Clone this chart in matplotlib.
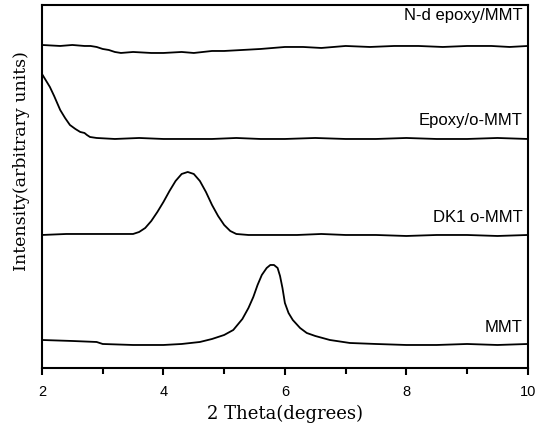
import numpy as np
import matplotlib
matplotlib.use('Agg')
import matplotlib.pyplot as plt
from matplotlib.ticker import MultipleLocator

# (2 theta in degrees, intensity in arbitrary units)
nd_x = [2.0, 2.3, 2.5, 2.7, 2.8, 2.9, 3.0, 3.1, 3.2, 3.3, 3.5, 3.8, 4.0, 4.3, 4.5, 4.8, 5.0, 5.3,
        5.6, 5.8, 6.0, 6.3, 6.6, 7.0, 7.4, 7.8, 8.2, 8.6, 9.0, 9.4, 9.7, 10.0]
nd_y = [323, 322, 323, 322, 322, 321, 319, 318, 316, 315, 316, 315, 315, 316, 315, 317, 317, 318,
        319, 320, 321, 321, 320, 322, 321, 322, 322, 321, 322, 322, 321, 322]

ep_x = [2.0, 2.07, 2.13, 2.2, 2.3, 2.38, 2.46, 2.55, 2.63, 2.7, 2.74, 2.79, 2.9, 3.2, 3.6, 4.0,
        4.4, 4.8, 5.2, 5.6, 6.0, 6.5, 7.0, 7.5, 8.0, 8.5, 9.0, 9.5, 10.0]
ep_y = [294, 287, 281, 272, 258, 250, 243, 239, 236, 235, 233, 231, 230, 229, 230, 229,
        229, 229, 230, 229, 229, 230, 229, 229, 230, 229, 229, 230, 229]

dk_x = [2.0, 2.4, 2.8, 3.2, 3.5, 3.6, 3.7, 3.8, 3.9, 4.0, 4.1, 4.2, 4.3, 4.4, 4.5, 4.6, 4.7,
        4.8, 4.9, 5.0, 5.1, 5.2, 5.4, 5.8, 6.2, 6.6, 7.0, 7.5, 8.0, 8.5, 9.0, 9.5, 10.0]
dk_y = [133, 134, 134, 134, 134, 136, 140, 147, 156, 166, 177, 187, 194, 196, 194, 187, 176,
        163, 152, 143, 137, 134, 133, 133, 133, 134, 133, 133, 132, 133, 133, 132, 133]

mmt_x = [2.0, 2.5, 2.9, 3.0, 3.5, 4.0, 4.3, 4.6, 4.8, 5.0, 5.15, 5.3, 5.4, 5.48, 5.55, 5.62, 5.7,
         5.76, 5.82, 5.88, 5.92, 5.96, 6.0, 6.06, 6.13, 6.25, 6.36, 6.5, 6.74, 7.07, 7.5, 8.0, 8.5,
         9.0, 9.5, 10.0]
mmt_y = [28, 27, 26, 24, 23, 23, 24, 26, 29, 33, 38, 49, 60, 71, 83, 93, 100, 103, 103, 100, 92,
         80, 65, 55, 48, 40, 35, 32, 28, 25, 24, 23, 23, 24, 23, 24]

labels = ['N-d epoxy/MMT', 'Epoxy/o-MMT', 'DK1 o-MMT', 'MMT']
label_y = [352, 247, 150, 40]

fig = plt.figure(figsize=(5.41, 4.36), dpi=100)
ax = fig.add_axes([0.0776, 0.156, 0.898, 0.8326])

for xs, ys in [(nd_x, nd_y), (ep_x, ep_y), (dk_x, dk_y), (mmt_x, mmt_y)]:
    ax.plot(xs, ys, color='black', lw=1.3)

for lab, ly in zip(labels, label_y):
    ax.text(9.91, ly, lab, ha='right', va='center', fontsize=12,
            family='Liberation Sans')

ax.set_xlim(2, 10)
ax.set_ylim(0, 363)
ax.set_yticks([])
ax.xaxis.set_major_locator(MultipleLocator(2))
ax.xaxis.set_minor_locator(MultipleLocator(1))
ax.tick_params(axis='x', which='major', direction='out', length=5, width=1.5,
               labelsize=10.5, pad=7)
ax.tick_params(axis='x', which='minor', direction='out', length=4, width=1.5)
for lab in ax.get_xticklabels():
    lab.set_family('Liberation Sans')
for s in ax.spines.values():
    s.set_linewidth(1.5)

ax.set_xlabel('2 Theta(degrees)', family='DejaVu Serif', fontsize=13)
ax.set_ylabel('Intensity(arbitrary units)', family='DejaVu Serif', fontsize=12.5)
ax.xaxis.set_label_coords(0.5, -0.10)
ax.yaxis.set_label_coords(-0.025, 0.57)

fig.savefig('out.png', dpi=100)
